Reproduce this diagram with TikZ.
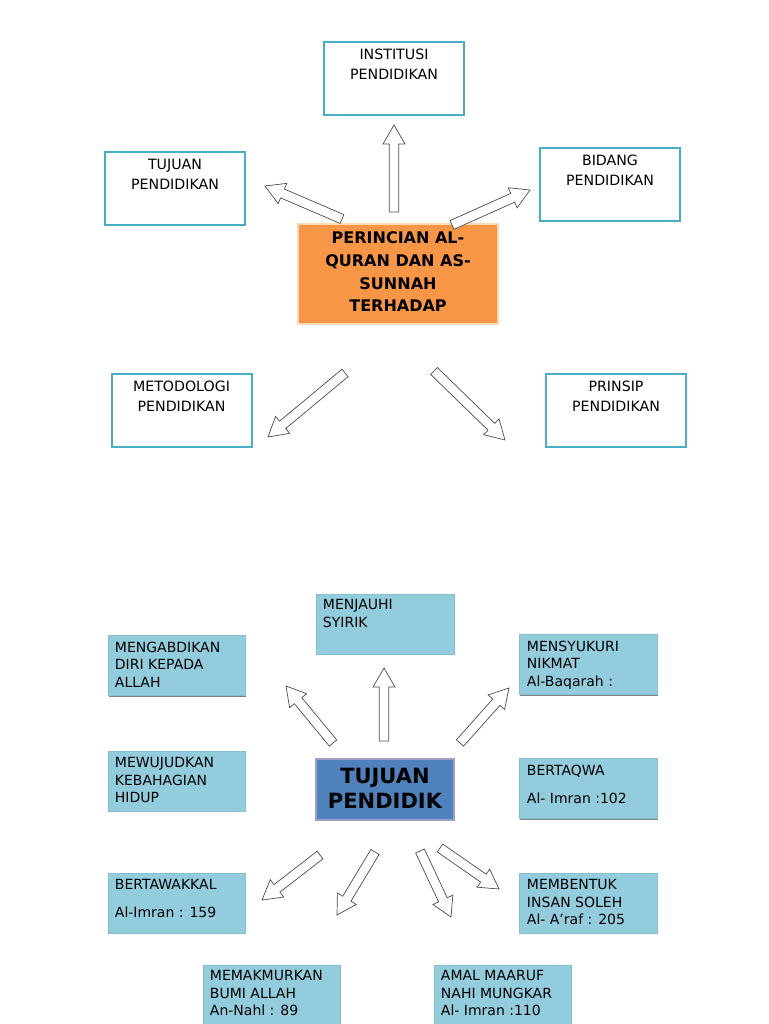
\documentclass[tikz,border=0pt]{standalone}
\usepackage{fontspec}
\setmainfont{DejaVu Sans}
\newfontfamily\boxfont{DejaVu Sans}
\usetikzlibrary{calc,shadows}
\definecolor{topline}{HTML}{4BACC6}
\definecolor{orangefill}{HTML}{F79646}
\definecolor{lbfill}{HTML}{93CDDD}
\definecolor{lbline}{HTML}{86BFCF}
\definecolor{midblue}{HTML}{4F81BD}
\def\barw{4.8pt}
\def\barh{11pt}
\def\barl{19pt}
\newcommand{\blockarrow}[2]{%
  \coordinate (tmpb) at ($(#2)!\barl!(#1)$);
  \draw[blockarr] ($(#1)!\barw!90:(#2)$) -- ($(tmpb)!\barw!90:(#2)$) -- ($(tmpb)!\barh!90:(#2)$) -- (#2)
    -- ($(tmpb)!\barh!-90:(#2)$) -- ($(tmpb)!\barw!-90:(#2)$) -- ($(#1)!\barw!-90:(#2)$) -- cycle;}
\tikzset{
  blockarr/.style={draw=black!70, fill=white, line width=0.7pt, line join=miter},
  topbox/.style={draw=topline, line width=2pt, fill=white, minimum width=140pt, minimum height=73pt, inner sep=0pt},
  toptext/.style={anchor=north, inner sep=0pt, align=center, font=\fontsize{14.2}{20}\selectfont},
  lbbox/.style={draw=lbline, line width=0.5pt, fill=lbfill, minimum width=137pt, minimum height=60pt, inner sep=0pt,
    drop shadow={shadow xshift=1.3pt, shadow yshift=-1.3pt, fill=black!70, opacity=0.7}},
  lbtext/.style={anchor=north west, inner sep=0pt, align=left, font=\boxfont\fontsize{14}{17.5}\selectfont},
}
\begin{document}
\begin{tikzpicture}[x=1pt, y=-1pt]
\useasboundingbox (0,0) rectangle (768,1024);
% ---------- top part ----------
\node[topbox] (inst) at (394,78.5) {};
\node[toptext] (instt) at ($(inst.north)+(0,8)$) {INSTITUSI\\PENDIDIKAN};
\node[topbox] (tuj) at (175,188.5) {};
\node[toptext] (tujt) at ($(tuj.north)+(0,8)$) {TUJUAN\\PENDIDIKAN};
\node[topbox] (bid) at (610,184.5) {};
\node[toptext] (bidt) at ($(bid.north)+(0,8)$) {BIDANG\\PENDIDIKAN};
\node[topbox] (met) at (181.5,410.5) {};
\node[toptext] (mett) at ($(met.north)+(0,8)$) {METODOLOGI\\PENDIDIKAN};
\node[topbox] (prin) at (616,410.5) {};
\node[toptext] (print) at ($(prin.north)+(0,8)$) {PRINSIP\\PENDIDIKAN};
\node[draw=orange!30, line width=1.2pt, fill=orangefill, minimum width=200pt, minimum height=100pt, inner sep=0pt,
  drop shadow={shadow xshift=1pt, shadow yshift=-1pt, fill=black!40, opacity=0.6}] (per) at (398,274) {};
\node[inner sep=0pt, align=center, font=\bfseries\fontsize{16}{22.7}\selectfont] (pert) at (398,272)
  {PERINCIAN AL-\\QURAN DAN AS-\\SUNNAH\\TERHADAP};
% top arrows
\coordinate (a1s) at (394,212); \coordinate (a1e) at (394,125);
\coordinate (a2s) at (342,219); \coordinate (a2e) at (265,186);
\coordinate (a3s) at (452,225); \coordinate (a3e) at (530,190);
\coordinate (a4s) at (345,373); \coordinate (a4e) at (268,437);
\coordinate (a5s) at (434,371); \coordinate (a5e) at (505,440);
\blockarrow{a1s}{a1e}
\blockarrow{a2s}{a2e}
\blockarrow{a3s}{a3e}
\blockarrow{a4s}{a4e}
\blockarrow{a5s}{a5e}
% ---------- bottom part ----------
\node[lbbox, minimum width=138pt] (menj) at (385,624) {};
\node[lbtext] (menjt) at ($(menj.north west)+(7,5.5)$) {MENJAUHI\\SYIRIK};
\node[lbbox] (meng) at (176.5,665.5) {};
\node[lbtext] (mengt) at ($(meng.north west)+(7,6.5)$) {MENGABDIKAN\\DIRI KEPADA\\ALLAH};
\node[lbbox, minimum width=138pt] (mens) at (588,664.5) {};
\node[lbtext] (menst) at ($(mens.north west)+(8,6.5)$) {MENSYUKURI\\NIKMAT\\Al-Baqarah :};
\node[lbbox] (mewu) at (176.5,781) {};
\node[lbtext] (mewut) at ($(mewu.north west)+(7,6.5)$) {MEWUJUDKAN\\KEBAHAGIAN\\HIDUP};
\node[draw=blue!25!gray!60, line width=1.2pt, fill=midblue, minimum width=138pt, minimum height=61pt, inner sep=0pt,
  drop shadow={shadow xshift=1pt, shadow yshift=-1pt, fill=black!40, opacity=0.6}] (tp) at (385,789.5) {};
\node[inner sep=0pt, align=center, font=\bfseries\fontsize{21}{25}\selectfont] (tpt) at (385,788.5) {TUJUAN\\PENDIDIK};
\node[lbbox, minimum width=138pt] (berq) at (588,788.5) {};
\node[lbtext] (berqt) at ($(berq.north west)+(8,6.5)$) {BERTAQWA\\[10.5pt]Al- Imran :102};
\node[lbbox] (bertw) at (176.5,903) {};
\node[lbtext] (bertwt) at ($(bertw.north west)+(7,6.5)$) {BERTAWAKKAL\\[10.5pt]Al-Imran : 159};
\node[lbbox, minimum width=138pt] (memb) at (588,903) {};
\node[lbtext] (membt) at ($(memb.north west)+(8,6.5)$) {MEMBENTUK\\INSAN SOLEH\\Al- A’raf : 205};
\node[lbbox] (memak) at (271.5,995) {};
\node[lbtext] (memakt) at ($(memak.north west)+(7,5.5)$) {MEMAKMURKAN\\BUMI ALLAH\\An-Nahl : 89};
\node[lbbox] (amal) at (502.5,995) {};
\node[lbtext] (amalt) at ($(amal.north west)+(7,5.5)$) {AMAL MAARUF\\NAHI MUNGKAR\\Al- Imran :110};
% bottom arrows
\coordinate (b1s) at (333,743); \coordinate (b1e) at (286,686);
\coordinate (b2s) at (384,741); \coordinate (b2e) at (384,668);
\coordinate (b3s) at (460,743); \coordinate (b3e) at (509,688);
\coordinate (b4s) at (320,855); \coordinate (b4e) at (262,900);
\coordinate (b5s) at (375,852); \coordinate (b5e) at (337,915);
\coordinate (b6s) at (420,851); \coordinate (b6e) at (451,917);
\coordinate (b7s) at (440,848); \coordinate (b7e) at (499,889);
\blockarrow{b1s}{b1e}
\blockarrow{b2s}{b2e}
\blockarrow{b3s}{b3e}
\blockarrow{b4s}{b4e}
\blockarrow{b5s}{b5e}
\blockarrow{b6s}{b6e}
\blockarrow{b7s}{b7e}
\end{tikzpicture}
\end{document}
